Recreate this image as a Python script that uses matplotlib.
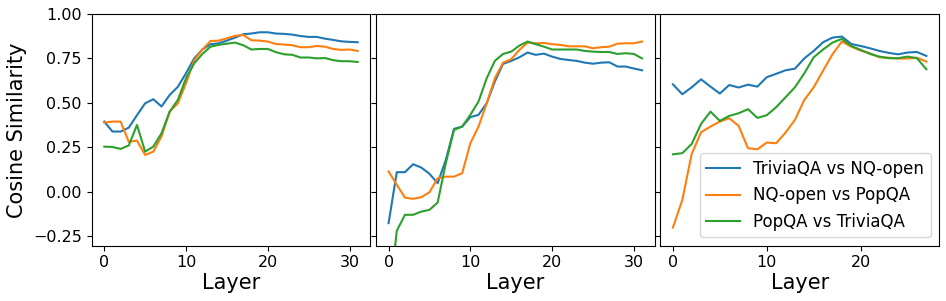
import matplotlib
matplotlib.use("Agg")
import matplotlib.pyplot as plt
import numpy as np

labels = ["TriviaQA vs NQ-open", "NQ-open vs PopQA", "PopQA vs TriviaQA"]

# Panel 1 (32 layers)
p1_trivia_nq = [0.394, 0.338, 0.338, 0.36, 0.43, 0.497, 0.52, 0.479, 0.544, 0.59,
                0.666, 0.75, 0.80, 0.83, 0.835, 0.85, 0.867, 0.886, 0.89, 0.897,
                0.897, 0.89, 0.888, 0.884, 0.876, 0.871, 0.871, 0.861, 0.854, 0.846,
                0.843, 0.841]
p1_nq_pop = [0.389, 0.394, 0.394, 0.28, 0.287, 0.206, 0.225, 0.31, 0.45, 0.497,
             0.61, 0.74, 0.80, 0.848, 0.85, 0.863, 0.877, 0.882, 0.852, 0.85,
             0.845, 0.831, 0.828, 0.824, 0.813, 0.813, 0.82, 0.816, 0.803, 0.798,
             0.80, 0.792]
p1_pop_trivia = [0.253, 0.251, 0.24, 0.26, 0.375, 0.225, 0.253, 0.328, 0.45, 0.516,
                 0.638, 0.722, 0.775, 0.816, 0.826, 0.833, 0.839, 0.824, 0.80, 0.803,
                 0.803, 0.785, 0.773, 0.77, 0.755, 0.755, 0.75, 0.752, 0.74, 0.734,
                 0.734, 0.73]

# Panel 2 (32 layers)
p2_trivia_nq = [-0.178, 0.109, 0.109, 0.154, 0.135, 0.10, 0.047, 0.178, 0.353, 0.366,
                0.419, 0.432, 0.497, 0.62, 0.719, 0.736, 0.756, 0.783, 0.77, 0.777,
                0.76, 0.747, 0.741, 0.736, 0.726, 0.72, 0.726, 0.728, 0.704, 0.704,
                0.693, 0.683]
p2_nq_pop = [0.113, 0.038, -0.034, -0.041, -0.032, -0.004, 0.075, 0.084, 0.084, 0.103,
             0.272, 0.366, 0.497, 0.638, 0.726, 0.745, 0.798, 0.839, 0.835, 0.837,
             0.83, 0.826, 0.818, 0.818, 0.818, 0.807, 0.813, 0.816, 0.833, 0.835,
             0.835, 0.845]
p2_pop_trivia = [-0.65, -0.221, -0.131, -0.131, -0.113, -0.103, -0.062, 0.16, 0.347, 0.366,
                 0.432, 0.507, 0.638, 0.736, 0.775, 0.788, 0.822, 0.845, 0.83, 0.816,
                 0.80, 0.80, 0.80, 0.80, 0.792, 0.788, 0.786, 0.786, 0.775, 0.779,
                 0.775, 0.75]

# Panel 3 (28 layers)
p3_trivia_nq = [0.604, 0.548, 0.587, 0.632, 0.591, 0.552, 0.60, 0.586, 0.602, 0.591,
                0.644, 0.663, 0.683, 0.692, 0.75, 0.792, 0.841, 0.867, 0.873, 0.831,
                0.82, 0.807, 0.792, 0.781, 0.773, 0.783, 0.786, 0.764]
p3_nq_pop = [-0.203, -0.047, 0.212, 0.334, 0.366, 0.394, 0.413, 0.37, 0.244, 0.238,
             0.276, 0.272, 0.332, 0.404, 0.516, 0.587, 0.681, 0.773, 0.845, 0.816,
             0.794, 0.779, 0.756, 0.754, 0.749, 0.749, 0.754, 0.732]
p3_pop_trivia = [0.21, 0.216, 0.268, 0.381, 0.45, 0.398, 0.426, 0.441, 0.464, 0.415,
                 0.43, 0.475, 0.531, 0.587, 0.666, 0.756, 0.80, 0.839, 0.86, 0.82,
                 0.798, 0.775, 0.76, 0.751, 0.751, 0.76, 0.751, 0.689]

panels = [
    (p1_trivia_nq, p1_nq_pop, p1_pop_trivia),
    (p2_trivia_nq, p2_nq_pop, p2_pop_trivia),
    (p3_trivia_nq, p3_nq_pop, p3_pop_trivia),
]

fig, axes = plt.subplots(1, 3, figsize=(9.46, 3.01), dpi=100, sharey=True)
fig.subplots_adjust(left=91.6/946, right=939/946, top=1-14/301, bottom=1-245.7/301, wspace=0.02)

for ax, series in zip(axes, panels):
    for vals, lab in zip(series, labels):
        ax.plot(np.arange(len(vals)), vals, label=lab, linewidth=1.5)
    ax.set_xlabel("Layer", fontsize=15, labelpad=2)
    ax.tick_params(labelsize=11.5)
    ax.set_xticks([0, 10, 20, 30] if len(series[0]) > 28 else [0, 10, 20])

axes[0].set_ylim(-0.305, 1.0)
axes[0].set_yticks([-0.25, 0.0, 0.25, 0.5, 0.75, 1.0])
axes[0].set_ylabel("Cosine Similarity", fontsize=15)
axes[2].legend(loc="lower right", fontsize=12)

fig.savefig("out.png", dpi=100)
